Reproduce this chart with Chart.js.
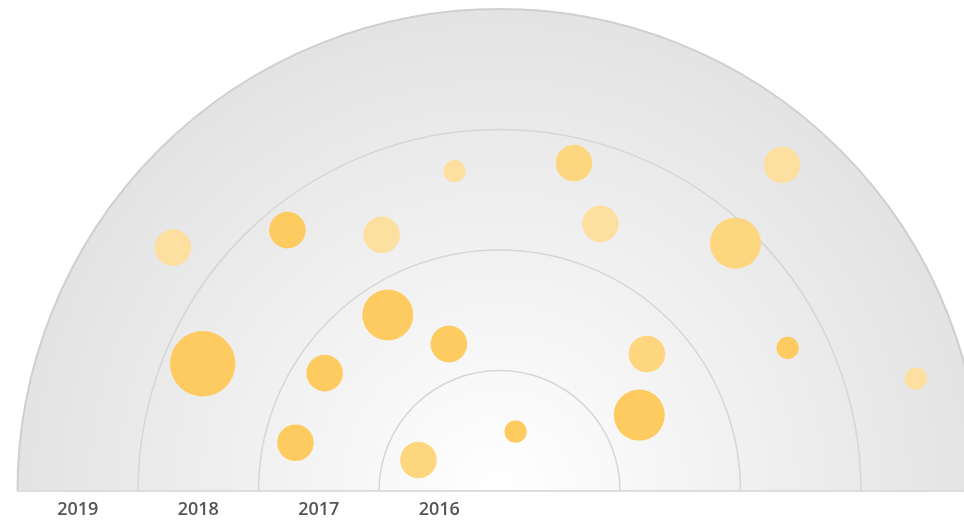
<!DOCTYPE html>
<html>
<head>
<meta charset="utf-8">
<script src="https://cdn.jsdelivr.net/npm/chart.js@4/dist/chart.umd.min.js"></script>
<style>
  html, body { margin: 0; padding: 0; background: #fff; }
  .wrap { width: 964px; height: 521px; position: relative; }
</style>
</head>
<body>
<div class="wrap"><canvas id="radialChart"></canvas></div>
<script>
/* ---------------- DATA ---------------- */

// rings from the centre outwards, labelled on the left half
const years = ['2016', '2017', '2018', '2019'];

// each bubble: angle (deg, 0 = right, 180 = left), distance from centre (ring units),
// size class (1-4) and shade (0 = full, 1 = mid, 2 = pale)
const bubbleAngles    = [143.3, 129.1, 114.7, 98.0, 77.2, 69.3, 49.1, 46.4, 122.4, 109.0, 156.8, 146.0, 166.7, 159.1, 74.8, 42.9, 28.5, 26.4, 15.1];
const bubbleDistances = [3.38, 2.79, 2.34, 2.68, 2.79, 2.37, 3.58, 2.84, 1.73, 1.29, 2.68, 1.75, 1.74, 0.72, 0.51, 1.67, 1.32, 2.67, 3.58];
const bubbleSizes     = [2, 2, 2, 1, 2, 2, 2, 3, 3, 2, 4, 2, 2, 2, 1, 2, 3, 1, 1];
const bubbleShades    = [2, 0, 2, 2, 1, 2, 2, 1, 0, 0, 0, 0, 0, 1, 0, 1, 0, 0, 2];

const shadeColors = ['#fecb61', '#fed67f', '#fddfa0'];

/* ---------------- BUILD POINTS ---------------- */

const points = bubbleAngles.map((a, i) => {
  const rad = a * Math.PI / 180;
  return {
    x: bubbleDistances[i] * Math.cos(rad),
    y: bubbleDistances[i] * Math.sin(rad),
    r: 3.9 + 7.2 * bubbleSizes[i]
  };
});

/* ---------------- RINGS PLUGIN ---------------- */

const ringsPlugin = {
  id: 'rings',
  beforeDraw(chart) {
    const { ctx, scales: { x, y } } = chart;
    const cx = x.getPixelForValue(0);
    const cy = y.getPixelForValue(0);
    const unit = cy - y.getPixelForValue(1);
    const outer = unit * years.length;

    ctx.save();
    const grad = ctx.createRadialGradient(cx, cy, 0, cx, cy, outer);
    grad.addColorStop(0, '#ffffff');
    grad.addColorStop(1, '#e3e3e3');
    ctx.fillStyle = grad;
    ctx.beginPath();
    ctx.arc(cx, cy, outer, Math.PI, 2 * Math.PI);
    ctx.closePath();
    ctx.fill();

    for (let i = 1; i <= years.length; i++) {
      ctx.beginPath();
      ctx.arc(cx, cy, unit * i, Math.PI, 2 * Math.PI);
      ctx.strokeStyle = i === years.length ? '#cfcfcf' : '#d6d6d6';
      ctx.lineWidth = i === years.length ? 2 : 1.5;
      ctx.stroke();
    }
    ctx.restore();
  }
};

/* ---------------- CHART ---------------- */

const ctx = document.getElementById('radialChart').getContext('2d');

new Chart(ctx, {
  type: 'bubble',
  data: {
    datasets: [{
      data: points,
      backgroundColor: bubbleShades.map(s => shadeColors[s]),
      borderWidth: 0,
      hoverBorderWidth: 0
    }]
  },
  options: {
    responsive: true,
    maintainAspectRatio: false,
    animation: false,
    layout: { autoPadding: false, padding: { left: 17.5, top: 9, right: 0, bottom: 0 } },
    plugins: {
      legend: { display: false },
      tooltip: { enabled: false }
    },
    scales: {
      x: {
        type: 'linear',
        min: -4,
        max: 3.855,
        afterFit: s => { s.height = 30; },
        afterBuildTicks: s => {
          s.ticks = years.map((yr, i) => ({ value: -(i + 0.5) }));
        },
        ticks: {
          autoSkip: false,
          maxRotation: 0,
          padding: 8,
          color: '#555555',
          font: { family: 'Open Sans', size: 18, weight: '600' },
          callback: v => years[Math.round(-v - 0.5)] || ''
        },
        grid: { display: false, drawTicks: false, tickLength: 0 },
        border: { display: true, color: '#dddddd', width: 2 }
      },
      y: {
        type: 'linear',
        min: 0,
        max: 4,
        display: false
      }
    }
  },
  plugins: [ringsPlugin]
});
</script>
</body>
</html>
